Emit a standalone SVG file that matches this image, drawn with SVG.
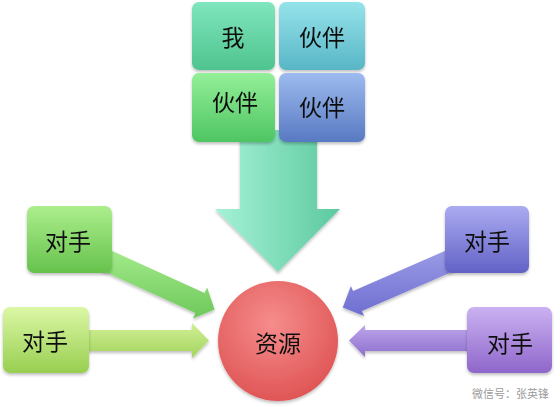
<svg xmlns="http://www.w3.org/2000/svg" width="560" height="407" viewBox="0 0 560 407">
<defs>
<linearGradient id="gMint" x1="0" y1="0" x2="0" y2="1"><stop offset="0" stop-color="#7fe6bd"/><stop offset="1" stop-color="#4fc48f"/></linearGradient>
<linearGradient id="gCyan" x1="0" y1="0" x2="0" y2="1"><stop offset="0" stop-color="#95e3ea"/><stop offset="1" stop-color="#58b6c6"/></linearGradient>
<linearGradient id="gGreen" x1="0" y1="0" x2="0" y2="1"><stop offset="0" stop-color="#94ef98"/><stop offset="1" stop-color="#4ec562"/></linearGradient>
<linearGradient id="gBlue" x1="0" y1="0" x2="0" y2="1"><stop offset="0" stop-color="#9dbbef"/><stop offset="1" stop-color="#5879c2"/></linearGradient>
<linearGradient id="gDown" x1="0" y1="0" x2="1" y2="0"><stop offset="0" stop-color="#a6f2d6"/><stop offset="1" stop-color="#5cc9a0"/></linearGradient>
<linearGradient id="gLT" x1="0" y1="0" x2="0" y2="1"><stop offset="0" stop-color="#acee8c"/><stop offset="1" stop-color="#66c24c"/></linearGradient>
<linearGradient id="gLTa" x1="0" y1="0" x2="0" y2="1"><stop offset="0" stop-color="#a4ec8c"/><stop offset="1" stop-color="#6ec85a"/></linearGradient>
<linearGradient id="gLB" x1="0" y1="0" x2="0" y2="1"><stop offset="0" stop-color="#dcf7a6"/><stop offset="1" stop-color="#98cf50"/></linearGradient>
<linearGradient id="gLBa" x1="0" y1="0" x2="0" y2="1"><stop offset="0" stop-color="#d2f096"/><stop offset="1" stop-color="#a2d45c"/></linearGradient>
<linearGradient id="gRT" x1="0" y1="0" x2="0" y2="1"><stop offset="0" stop-color="#ababf2"/><stop offset="1" stop-color="#6262c6"/></linearGradient>
<linearGradient id="gRTa" x1="0" y1="0" x2="0" y2="1"><stop offset="0" stop-color="#9a9ae6"/><stop offset="1" stop-color="#6e6ed0"/></linearGradient>
<linearGradient id="gRB" x1="0" y1="0" x2="0" y2="1"><stop offset="0" stop-color="#cbb2f2"/><stop offset="1" stop-color="#8e66ca"/></linearGradient>
<linearGradient id="gRBa" x1="0" y1="0" x2="0" y2="1"><stop offset="0" stop-color="#bca6ec"/><stop offset="1" stop-color="#8e6ecc"/></linearGradient>
<radialGradient id="gRed" cx="0.45" cy="0.35" r="0.7"><stop offset="0" stop-color="#f68c8c"/><stop offset="1" stop-color="#de5252"/></radialGradient>
<filter id="sh" x="-20%" y="-20%" width="140%" height="150%"><feDropShadow dx="0" dy="2" stdDeviation="1.5" flood-color="#000" flood-opacity="0.25"/></filter>
</defs>
<style>
.t{font-family:"Noto Sans CJK SC","Noto Sans",sans-serif;font-size:23px;fill:#111;text-anchor:middle;dominant-baseline:central}
.w{font-family:"Noto Sans CJK SC","Noto Sans",sans-serif;font-size:11px;fill:#9a9a9a;text-anchor:end}
</style>
<rect width="560" height="407" fill="#fff"/>
<g id="connectors" filter="url(#sh)">
<polygon points="240,130 317,130 317,209 340,209 278,272 215,209 240,209" fill="url(#gDown)"/>
<polygon points="104.5,247.4 204.6,293 207.1,287.5 214.6,309.6 192.9,318.5 195.4,313 95.3,267.4" fill="url(#gLTa)"/>
<polygon points="80,330 192,330 192,323 209,340.5 192,358 192,351 80,351" fill="url(#gLBa)"/>
<polygon points="444.8,251 353.1,290.9 350.9,285.9 342.8,307.4 364.1,316.1 361.9,311.1 453.6,271.2" fill="url(#gRTa)"/>
<polygon points="480,330 365,330 365,325 349,340.5 365,357 365,351 480,351" fill="url(#gRBa)"/>
</g>
<g id="me" filter="url(#sh)"><rect x="192" y="2" width="83" height="68" rx="7" fill="url(#gMint)"/><text class="t" x="233" y="36">我</text></g>
<g id="partner1" filter="url(#sh)"><rect x="279" y="2" width="86" height="68" rx="7" fill="url(#gCyan)"/><text class="t" x="322" y="36">伙伴</text></g>
<g id="partner2" filter="url(#sh)"><rect x="192" y="73" width="83" height="69" rx="7" fill="url(#gGreen)"/><text class="t" x="235" y="101">伙伴</text></g>
<g id="partner3" filter="url(#sh)"><rect x="279" y="73" width="86" height="69" rx="7" fill="url(#gBlue)"/><text class="t" x="322" y="106">伙伴</text></g>
<g id="rival1" filter="url(#sh)"><rect x="27" y="206" width="85" height="67" rx="7" fill="url(#gLT)"/><text class="t" x="68" y="240">对手</text></g>
<g id="rival2" filter="url(#sh)"><rect x="3" y="307" width="86" height="66" rx="7" fill="url(#gLB)"/><text class="t" x="45" y="340">对手</text></g>
<g id="rival3" filter="url(#sh)"><rect x="445" y="206" width="84" height="67" rx="7" fill="url(#gRT)"/><text class="t" x="487" y="240">对手</text></g>
<g id="rival4" filter="url(#sh)"><rect x="467" y="307" width="85" height="66" rx="7" fill="url(#gRB)"/><text class="t" x="510" y="342">对手</text></g>
<g id="resource" filter="url(#sh)"><circle cx="278" cy="341" r="60" fill="url(#gRed)"/><text class="t" x="278" y="342">资源</text></g>
<text class="w" x="549" y="398">微信号：张英锋</text>
</svg>
